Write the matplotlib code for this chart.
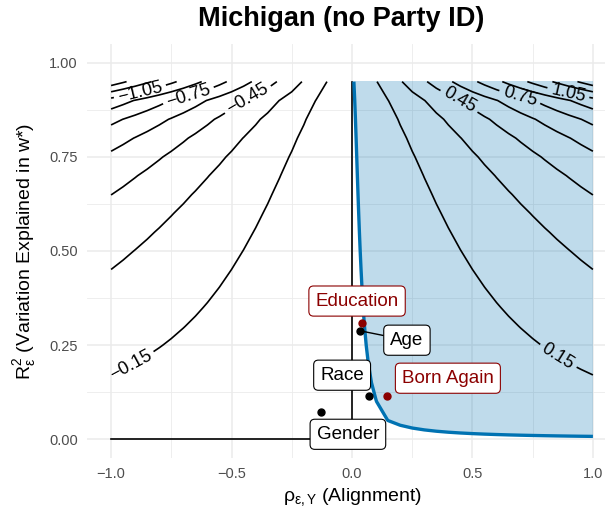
import numpy as np
import matplotlib
matplotlib.use("Agg")
import matplotlib.pyplot as plt

# Fuente tipo Helvetica/Arial como en ggplot
plt.rcParams["font.family"] = ["Liberation Sans", "DejaVu Sans"]
plt.rcParams["mathtext.fontset"] = "custom"
plt.rcParams["mathtext.rm"] = "Liberation Sans"
plt.rcParams["mathtext.it"] = "Liberation Sans:italic"
plt.rcParams["contour.negative_linestyle"] = "solid"

# Rejilla de la superficie de sesgo (rho x R2)
RHO_GRID = np.arange(-1.0, 1.0001, 0.05)
R2_GRID = np.arange(0.0, 0.9501, 0.05)
BIAS_SCALE = 0.331          # multiplicador
KILL_THRESHOLD = 0.01125    # valor de sesgo que anula la estimación
LABELED_LEVELS = [-1.05, -0.75, -0.45, -0.15, 0.15, 0.45, 0.75, 1.05]
OTHER_LEVELS = [-1.35, -1.2, -0.9, -0.6, -0.3, 0.3, 0.6, 0.9, 1.2, 1.35]

# Covariables (benchmarks)
covariates = ["Education", "Age", "Race", "Born Again", "Gender"]
cov_rho = [0.042, 0.033, 0.072, 0.144, -0.13]
cov_r2 = [0.309, 0.288, 0.114, 0.114, 0.072]
cov_group = ["red", "black", "black", "red", "black"]

# posiciones de las etiquetas (centro de la caja) y de los textos de contorno
label_pos = {
    "Education": (0.021, 0.367),
    "Age": (0.228, 0.263),
    "Race": (-0.041, 0.170),
    "Born Again": (0.398, 0.162),
    "Gender": (-0.017, 0.013),
}
clabel_pos = [(-0.88, 0.923), (-0.68, 0.915), (-0.436, 0.907), (-0.91, 0.185),
              (0.448, 0.902), (0.697, 0.91), (0.896, 0.915), (0.846, 0.21)]

DARKRED = "#8B0000"
BLUE = "#0072B2"


def bias_surface(rho, r2):
    return BIAS_SCALE * rho * np.sqrt(r2 / (1 - r2))


def main():
    rr, qq = np.meshgrid(RHO_GRID, R2_GRID)
    zz = bias_surface(rr, qq)

    fig = plt.figure(figsize=(6.05, 5.12), dpi=100)
    ax = fig.add_axes([87 / 605, 54 / 512, 530 / 605, 414 / 512])
    ax.set_xlim(-1.1, 1.1)
    ax.set_ylim(-0.05, 1.05)

    # tema minimal
    for s in ax.spines.values():
        s.set_visible(False)
    ax.set_xticks([-1, -0.5, 0, 0.5, 1])
    ax.set_xticks([-0.75, -0.25, 0.25, 0.75], minor=True)
    ax.set_yticks([0, 0.25, 0.5, 0.75, 1])
    ax.set_yticks([0.125, 0.375, 0.625, 0.875], minor=True)
    ax.set_yticklabels(["0.00", "0.25", "0.50", "0.75", "1.00"])
    ax.grid(True, which="major", color="#EBEBEB", lw=1.1, zorder=0)
    ax.grid(True, which="minor", color="#EBEBEB", lw=0.6, zorder=0)
    ax.set_axisbelow(True)
    ax.tick_params(which="both", length=0, labelsize=10.5, labelcolor="#4D4D4D", pad=6.5)

    # zona de confusores que anulan la estimación
    ax.contourf(rr, qq, zz, levels=[KILL_THRESHOLD, 10], colors=[BLUE], alpha=0.25, zorder=1)

    ax.contour(rr, qq, zz, levels=OTHER_LEVELS, colors="black", linewidths=1.2,
               linestyles="solid", zorder=2)
    cs = ax.contour(rr, qq, zz, levels=LABELED_LEVELS, colors="black", linewidths=1.2,
                    linestyles="solid", zorder=2)
    ax.clabel(cs, inline=True, fontsize=13,
              fmt=lambda v: f"{v:.2f}".replace("-", "\u2212"), manual=clabel_pos,
              inline_spacing=4)

    # contorno cero
    ax.plot([0, 0], [R2_GRID[0], R2_GRID[-1]], color="black", lw=1.2, zorder=2)
    ax.plot([RHO_GRID[0], 0], [0, 0], color="black", lw=1.2, zorder=2)

    ax.contour(rr, qq, zz, levels=[KILL_THRESHOLD], colors=[BLUE], linewidths=2.4, zorder=3)

    # puntos y etiquetas
    for name, x, y, g in zip(covariates, cov_rho, cov_r2, cov_group):
        col = DARKRED if g == "red" else "black"
        ax.plot(x, y, "o", color=col, ms=5, zorder=4)
        lx, ly = label_pos[name]
        arrow = None
        if name == "Age":
            arrow = dict(arrowstyle="-", color="black", lw=1.0, shrinkA=0, shrinkB=3)
        ax.annotate(name, xy=(x, y), xytext=(lx, ly), textcoords="data",
                    ha="center", va="center", fontsize=13.5, color=col, zorder=5,
                    bbox=dict(boxstyle="round,pad=0.35,rounding_size=0.25",
                              fc="white", ec=col, lw=0.8),
                    arrowprops=arrow)

    ax.set_xlabel(r"$\mathrm{\rho_{\varepsilon,Y}}$ (Alignment)", fontsize=14, labelpad=4)
    ax.set_ylabel(r"$\mathrm{R^2_{\varepsilon}}$ (Variation Explained in w*)", fontsize=14, labelpad=8)

    fig.text(341 / 605, 1 - 19 / 512, "Michigan (no Party ID)", ha="center", va="center",
             fontsize=19.5, fontweight="bold")

    fig.savefig("out.png", dpi=100)


if __name__ == "__main__":
    main()
